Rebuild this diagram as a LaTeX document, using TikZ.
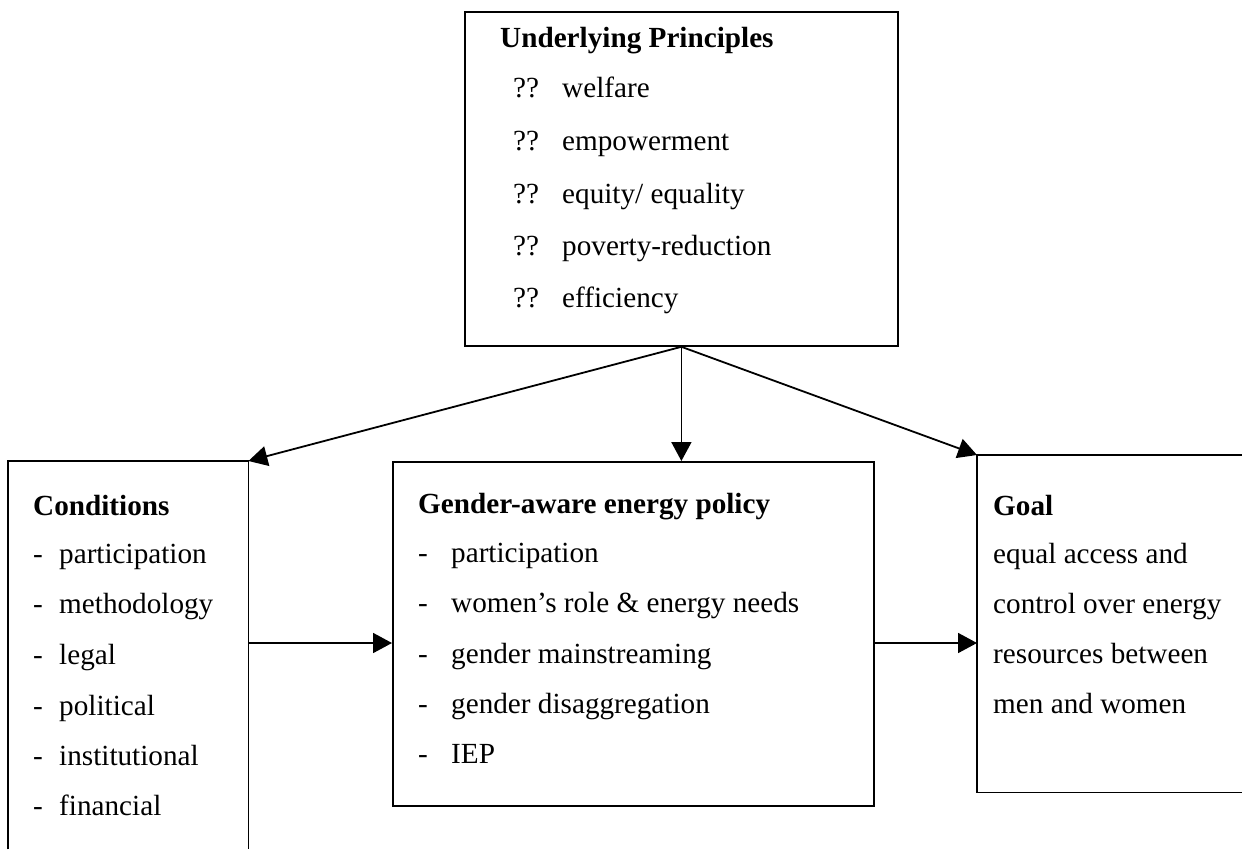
\documentclass[tikz,border=0pt]{standalone}
\usepackage{fontspec}
\setmainfont{Liberation Serif}
\usetikzlibrary{arrows.meta}
\begin{document}
\begin{tikzpicture}[x=1pt,y=-1pt,
  box/.style={draw,line width=1.8pt,inner sep=0pt,anchor=north west},
  ghost/.style={inner sep=0pt,anchor=north west},
  txt/.style={anchor=base west,inner sep=0pt,font=\fontsize{29.2}{35}\selectfont},
  hd/.style={anchor=base west,inner sep=0pt,font=\fontsize{29.2}{35}\selectfont\bfseries},
  arr/.style={line width=1.8pt,-{Triangle[length=19pt,width=20pt]}},
  edgeline/.style={line width=1.8pt}]
\useasboundingbox (0,0) rectangle (1242,849);
\fill[white] (0,0) rectangle (1242,849);

% boxes
\node[box,minimum width=433pt,minimum height=334pt] (prin) at (464,11) {};
\node[box,minimum width=481pt,minimum height=344pt] (policy) at (392,461) {};
\node[ghost,minimum width=240pt,minimum height=388pt] (cond) at (8,461) {};
\node[ghost,minimum width=265pt,minimum height=337pt] (goal) at (977,455) {};
\draw[edgeline] (cond.south west) -- (cond.north west) -- (cond.north east) -- (cond.south east);
\draw[edgeline] (goal.north east) -- (goal.north west) -- (goal.south west) -- (goal.south east);

% connectors
\draw[arr] (prin.south) -- (cond.north east);
\draw[arr] (prin.south) -- (prin.south |- policy.north);
\draw[arr] (prin.south) -- (goal.north west);
\coordinate (lvl) at (0,643);
\draw[arr] (cond.east |- lvl) -- (policy.west |- lvl);
\draw[arr] (policy.east |- lvl) -- (goal.west |- lvl);

% Underlying Principles
\node[hd] (prinhd) at (500,47) {Underlying Principles};
\node[txt] (pb1) at (513,97) {??};  \node[txt] (pt1) at (562,97) {welfare};
\node[txt] (pb2) at (513,150) {??}; \node[txt] (pt2) at (562,150) {empowerment};
\node[txt] (pb3) at (513,203) {??}; \node[txt] (pt3) at (562,203) {equity/ equality};
\node[txt] (pb4) at (513,255) {??}; \node[txt] (pt4) at (562,255) {poverty-reduction};
\node[txt] (pb5) at (513,307) {??}; \node[txt] (pt5) at (562,307) {efficiency};

% Conditions
\node[hd] (condhd) at (33,515) {Conditions};
\node[txt] (cb1) at (33,563) {-}; \node[txt] (ct1) at (59,563) {participation};
\node[txt] (cb2) at (33,613) {-}; \node[txt] (ct2) at (59,613) {methodology};
\node[txt] (cb3) at (33,664) {-}; \node[txt] (ct3) at (59,664) {legal};
\node[txt] (cb4) at (33,715) {-}; \node[txt] (ct4) at (59,715) {political};
\node[txt] (cb5) at (33,765) {-}; \node[txt] (ct5) at (59,765) {institutional};
\node[txt] (cb6) at (33,815) {-}; \node[txt] (ct6) at (59,815) {financial};

% Gender-aware energy policy
\node[hd] (polhd) at (418,513) {Gender-aware energy policy};
\node[txt] (gb1) at (418,562) {-}; \node[txt] (gt1) at (451,562) {participation};
\node[txt] (gb2) at (418,612) {-}; \node[txt] (gt2) at (451,612) {women’s role \& energy needs};
\node[txt] (gb3) at (418,663) {-}; \node[txt] (gt3) at (451,663) {gender mainstreaming};
\node[txt] (gb4) at (418,713) {-}; \node[txt] (gt4) at (451,713) {gender disaggregation};
\node[txt] (gb5) at (418,763) {-}; \node[txt] (gt5) at (451,763) {IEP};

% Goal
\node[hd] (goalhd) at (993,515) {Goal};
\node[txt] (ot1) at (993,563) {equal access and};
\node[txt] (ot2) at (993,613) {control over energy};
\node[txt] (ot3) at (993,663) {resources between};
\node[txt] (ot4) at (993,713) {men and women};
\end{tikzpicture}
\end{document}
